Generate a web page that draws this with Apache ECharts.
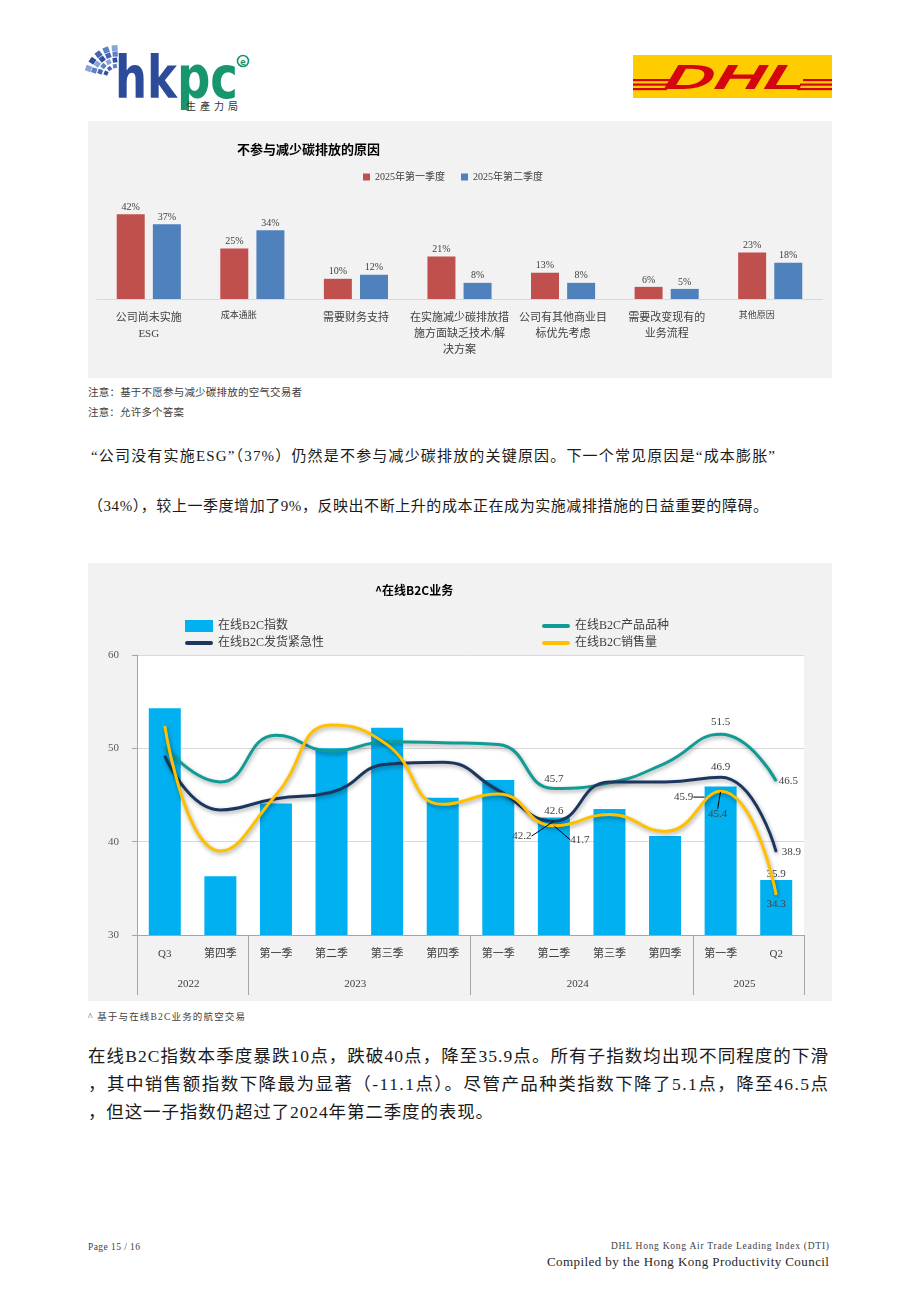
<!DOCTYPE html>
<html>
<head>
<meta charset="utf-8">
<script src="https://cdn.jsdelivr.net/npm/echarts@6/dist/echarts.min.js"></script>
<style>
  body { margin: 0; background: #fff; }
  #page {
    position: relative; width: 920px; height: 1302px; overflow: hidden;
    font-family: "Liberation Serif", "Noto Sans CJK SC", serif; color: #1a1a1a;
  }
  .t { position: absolute; white-space: nowrap; }
  #reasonChart { position: absolute; left: 88px; top: 121px; width: 744px; height: 257px; background: #f2f2f2; }
  #b2cChart { position: absolute; left: 88px; top: 563px; width: 744px; height: 438px; background: #f2f2f2; }
</style>
</head>
<body>
<div id="page">
  <!-- logos -->
  <svg id="hkpcLogo" class="t" style="left:0;top:0" width="300" height="120"></svg>
  <svg class="t" style="left:633px;top:55px" width="199" height="43">
    <rect x="0" y="0" width="199" height="43" fill="#FFCC00"/>
    <g fill="#D40511">
      <rect x="0" y="24" width="40" height="2.2"/>
      <rect x="0" y="28.5" width="37" height="2.2"/>
      <rect x="0" y="33" width="34" height="2.2"/>
      <rect x="170" y="24" width="29" height="2.2"/>
      <rect x="167" y="28.5" width="32" height="2.2"/>
      <rect x="164" y="33" width="35" height="2.2"/>
    </g>
    <text x="100" y="34" text-anchor="middle" textLength="142" lengthAdjust="spacingAndGlyphs"
      font-family="Liberation Sans" font-weight="bold" font-style="italic" font-size="35" fill="#D40511"
      transform="skewX(-12) translate(8,0)">DHL</text>
  </svg>

  <div id="reasonChart"></div>

  <div class="t fit" data-w="214" style="left:88px;top:383px;font-size:10.5px;line-height:20px;color:#404040">注意：基于不愿参与减少碳排放的空气交易者</div>
  <div class="t fit" data-w="96" style="left:88px;top:403px;font-size:10.5px;line-height:20px;color:#404040">注意：允许多个答案</div>

  <div class="t fit" data-w="684" style="left:91px;top:446px;font-size:15px;line-height:20px">“公司没有实施ESG”（37%）仍然是不参与减少碳排放的关键原因。下一个常见原因是“成本膨胀”</div>
  <div class="t fit" data-w="680" style="left:88px;top:496px;font-size:15px;line-height:20px">（34%），较上一季度增加了9%，反映出不断上升的成本正在成为实施减排措施的日益重要的障碍。</div>

  <div id="b2cChart"></div>

  <div class="t fit" data-w="157" style="left:88px;top:1007px;font-size:9.5px;line-height:20px;color:#404040">^ 基于与在线B2C业务的航空交易</div>

  <div class="t fit" data-w="740" style="left:88px;top:1042px;font-size:17.5px;line-height:28px">在线B2C指数本季度暴跌10点，跌破40点，降至35.9点。所有子指数均出现不同程度的下滑</div>
  <div class="t fit" data-w="740" style="left:88px;top:1070px;font-size:17.5px;line-height:28px">，其中销售额指数下降最为显著（-11.1点）。尽管产品种类指数下降了5.1点，降至46.5点</div>
  <div class="t fit" data-w="405" style="left:88px;top:1098px;font-size:17.5px;line-height:28px">，但这一子指数仍超过了2024年第二季度的表现。</div>

  <div class="t fit" data-w="52" style="left:88px;top:1237px;font-size:9.5px;line-height:20px;color:#404040">Page 15 / 16</div>
  <div class="t fit" data-w="218" data-right="829" style="top:1236px;font-size:9.5px;line-height:20px;color:#404040">DHL Hong Kong Air Trade Leading Index (DTI)</div>
  <div class="t fit" data-w="282" data-right="829" style="top:1252px;font-size:13px;line-height:20px;color:#262626">Compiled by the Hong Kong Productivity Council</div>
</div>

<script>
// ---------- 数据 ----------
// 图一：不参与减少碳排放的原因
const reasonCats = [
  '公司尚未实施\nESG',
  '成本通胀',
  '需要财务支持',
  '在实施减少碳排放措\n施方面缺乏技术/解\n决方案',
  '公司有其他商业目\n标优先考虑',
  '需要改变现有的\n业务流程',
  '其他原因'
];
const reasonQ1 = [42, 25, 10, 21, 13, 6, 23];
const reasonQ2 = [37, 34, 12, 8, 8, 5, 18];
const reasonNames = ['2025年第一季度', '2025年第二季度'];

// 图二：在线B2C业务
const quarterLabels = ['Q3', '第四季', '第一季', '第二季', '第三季', '第四季',
  '第一季', '第二季', '第三季', '第四季', '第一季', 'Q2'];
const yearLabels = ['2022', '2023', '2024', '2025'];
const yearSpans = [2, 4, 4, 2];
const b2cIndex = [54.3, 36.3, 44.1, 50.0, 52.2, 44.7, 46.6, 42.6, 43.5, 40.6, 45.9, 35.9];
const b2cVariety = [50.2, 46.4, 51.4, 49.7, 50.7, 50.6, 50.4, 45.7, 46.3, 48.4, 51.5, 46.5];
const b2cUrgency = [49.2, 43.4, 44.6, 45.3, 48.3, 48.5, 45.5, 42.2, 46.4, 46.4, 46.9, 38.9];
const b2cSales = [52.4, 39.0, 45.0, 52.5, 50.4, 44.0, 45.1, 41.7, 42.9, 41.1, 45.4, 34.3];
const yTicks = [30, 40, 50, 60];

const FONT = '"Liberation Serif", "Noto Sans CJK SC", serif';
const LABEL_COLOR = '#404040';

// ---------- 页面文字宽度微调 ----------
document.querySelectorAll('.fit').forEach(el => {
  const target = +el.dataset.w;
  const n = el.textContent.length;
  const natural = el.getBoundingClientRect().width;
  if (n > 1) el.style.letterSpacing = ((target - natural) / (n - 1)) + 'px';
  if (el.dataset.right) el.style.left = (+el.dataset.right - target) + 'px';
});

// ---------- hkpc 标志 ----------
(function drawLogo() {
  const svg = document.getElementById('hkpcLogo');
  const ns = 'http://www.w3.org/2000/svg';
  const cx = 117, cy = 78;
  const rings = [[12, 3], [18, 4], [24, 5], [30, 5]];
  const shades = ['#2F4E9E', '#4466B2', '#5E80C4', '#8AA3D6'];
  rings.forEach(([r, n], ri) => {
    for (let k = 0; k < n; k++) {
      const a = (190 + (k + 0.5) * (84 / n)) * Math.PI / 180;
      const x = cx + r * Math.cos(a), y = cy + r * Math.sin(a);
      const s = 4 + ri * 0.6;
      const rect = document.createElementNS(ns, 'rect');
      rect.setAttribute('x', x - s / 2); rect.setAttribute('y', y - s / 2);
      rect.setAttribute('width', s); rect.setAttribute('height', s);
      rect.setAttribute('fill', shades[(k + ri) % 4]);
      rect.setAttribute('transform', `rotate(${a * 180 / Math.PI} ${x} ${y})`);
      svg.appendChild(rect);
    }
  });
  svg.insertAdjacentHTML('beforeend',
    '<text x="115" y="98" textLength="62" lengthAdjust="spacingAndGlyphs" font-family="DejaVu Sans" font-weight="bold" font-size="58" fill="#2D4B9B">hk</text>' +
    '<text x="177" y="98" textLength="61" lengthAdjust="spacingAndGlyphs" font-family="DejaVu Sans" font-weight="bold" font-size="58" fill="#17956F">pc</text>' +
    '<text x="186" y="110" textLength="52" lengthAdjust="spacing" font-family="Noto Sans CJK TC" font-size="10" fill="#333">生產力局</text>' +
    '<circle cx="243" cy="61" r="5.5" fill="none" stroke="#17956F" stroke-width="1.6"/>' +
    '<text x="243" y="64.5" text-anchor="middle" font-family="DejaVu Sans" font-weight="bold" font-size="8" fill="#17956F">e</text>');
})();

// ---------- 图一 ----------
const reasonChart = echarts.init(document.getElementById('reasonChart'));
const smallCats = ['成本通胀', '其他原因'];
reasonChart.setOption({
  animation: false,
  textStyle: { fontFamily: FONT },
  title: {
    text: '不参与减少碳排放的原因',
    left: 144, top: 17,
    textStyle: { fontSize: 13, fontWeight: 'bold', color: '#000', fontFamily: '"Noto Sans CJK SC"' }
  },
  legend: {
    left: 270, top: 46,
    itemWidth: 7, itemHeight: 7, itemGap: 16,
    textStyle: { fontSize: 10, color: LABEL_COLOR, fontFamily: FONT },
    data: reasonNames.map(n => ({ name: n, icon: 'rect' }))
  },
  grid: { left: 9, right: 10, top: 77, bottom: 79 },
  xAxis: {
    type: 'category',
    data: reasonCats,
    axisLine: { lineStyle: { color: '#d9d9d9', width: 1 } },
    axisTick: { show: false },
    axisLabel: {
      interval: 0, fontSize: 11, lineHeight: 16, color: LABEL_COLOR, margin: 11, fontFamily: FONT,
      formatter: v => smallCats.includes(v) ? '{s|' + v + '}' : v,
      rich: { s: { fontSize: 9, color: LABEL_COLOR, padding: [0, 27, 4, 0], fontFamily: FONT } }
    }
  },
  yAxis: { type: 'value', min: 0, max: 50, show: false },
  series: [reasonQ1, reasonQ2].map((vals, k) => ({
    name: reasonNames[k],
    type: 'bar',
    data: vals,
    barWidth: 28,
    barGap: '29%',
    itemStyle: { color: k === 0 ? '#C0504D' : '#4F81BD' },
    label: {
      show: true, position: 'top', distance: 2, formatter: '{c}%',
      fontSize: 10, color: LABEL_COLOR, fontFamily: FONT
    }
  }))
});

// ---------- 图二 ----------
const b2cChart = echarts.init(document.getElementById('b2cChart'));

// 年份分隔位置与年份标签位置
const yearStarts = [];
const yearCenters = {};
yearSpans.reduce((start, span, i) => {
  yearStarts.push(start);
  yearCenters[start + span / 2] = yearLabels[i];
  return start + span;
}, 0);

// 数据标签放置（只显示部分点）
const labelPlace = {
  bar: {
    7: { position: 'top', distance: 1 },
    10: { position: 'top', distance: 5, move: [-37, 21] },
    11: { position: 'top', distance: 0, offset: [-3, 0] }
  },
  variety: {
    7: { position: 'top', distance: 3 },
    10: { position: 'top', distance: 6 },
    11: { position: 'right', distance: 2 }
  },
  urgency: {
    7: { position: 'top', distance: 5, move: [-32, 26] },
    10: { position: 'top', distance: 4 },
    11: { position: 'right', distance: 5 }
  },
  sales: {
    7: { position: 'top', distance: 5, move: [26, 25] },
    10: { position: 'top', distance: 5, move: [-3, 34] },
    11: { position: 'bottom', distance: 3 }
  }
};

const labelBase = { fontSize: 11, color: LABEL_COLOR, fontFamily: FONT };
function withLabels(values, key) {
  const spots = labelPlace[key];
  return values.map((v, i) => {
    const s = spots[i];
    if (!s) return v;
    const item = {
      value: v,
      label: Object.assign({ show: true }, labelBase,
        { position: s.position, distance: s.distance, offset: s.offset || [0, 0] })
    };
    if (s.move) item.labelLine = { show: true, lineStyle: { color: '#000', width: 1 } };
    return item;
  });
}
function layoutFor(key) {
  const spots = labelPlace[key];
  return p => {
    const s = spots[p.dataIndex];
    return s && s.move ? { dx: s.move[0], dy: s.move[1] } : {};
  };
}

const LINE_ICON = 'path://M0,0 L0.01,0 M2,4 L26,4 A2,2 0 0 1 26,8 L2,8 A2,2 0 0 1 2,4 Z M28,12 L27.99,12';
const lineShadow = { shadowColor: 'rgba(0,0,0,0.35)', shadowBlur: 4, shadowOffsetY: 2, shadowOffsetX: 1 };

function lineSeries(name, values, key, color) {
  return {
    name, type: 'line', smooth: true,
    data: withLabels(values, key),
    symbol: 'circle', symbolSize: 1,
    itemStyle: { color },
    lineStyle: Object.assign({ color, width: 3 }, lineShadow),
    label: { show: false },
    labelLayout: layoutFor(key),
    z: 3
  };
}

const legendCommon = {
  orient: 'vertical', top: 52, itemGap: 5, itemWidth: 28, itemHeight: 12,
  itemStyle: { borderWidth: 0 },
  textStyle: { fontSize: 12, color: LABEL_COLOR, fontFamily: FONT }
};

b2cChart.setOption({
  animation: false,
  textStyle: { fontFamily: FONT },
  title: {
    text: '^在线B2C业务',
    left: 282, top: 16,
    textStyle: { fontSize: 12, fontWeight: 'bold', color: '#000', fontFamily: '"Noto Sans CJK SC"' }
  },
  legend: [
    Object.assign({ left: 92, data: [{ name: '在线B2C指数', icon: 'rect' }, { name: '在线B2C发货紧急性', icon: LINE_ICON }] }, legendCommon),
    Object.assign({ left: 449, data: [{ name: '在线B2C产品品种', icon: LINE_ICON }, { name: '在线B2C销售量', icon: LINE_ICON }] }, legendCommon)
  ],
  grid: { left: 49, right: 28, top: 92, bottom: 66, show: true, backgroundColor: '#fff', borderWidth: 0 },
  xAxis: [
    {
      type: 'category',
      data: quarterLabels,
      axisLine: { lineStyle: { color: '#a6a6a6' } },
      axisTick: { show: true, length: 60, interval: i => yearStarts.includes(i), lineStyle: { color: '#a6a6a6' } },
      axisLabel: { interval: 0, fontSize: 11, color: LABEL_COLOR, margin: 14, fontFamily: FONT }
    },
    {
      type: 'value', position: 'bottom', min: 0, max: quarterLabels.length, interval: 1,
      axisLine: { show: false }, axisTick: { show: false }, splitLine: { show: false },
      axisLabel: {
        margin: 44, fontSize: 11, color: LABEL_COLOR, fontFamily: FONT,
        padding: [0, 8, 0, 0],
        formatter: v => yearCenters[v] || ''
      }
    }
  ],
  yAxis: {
    type: 'value', min: yTicks[0], max: yTicks[yTicks.length - 1], interval: 10,
    axisLine: { show: true, lineStyle: { color: '#a6a6a6' } },
    axisTick: { show: true, length: 5, lineStyle: { color: '#a6a6a6' } },
    splitLine: { lineStyle: { color: '#d9d9d9' } },
    axisLabel: { fontSize: 11, color: '#595959', margin: 18, fontFamily: FONT }
  },
  series: [
    {
      name: '在线B2C指数', type: 'bar',
      data: withLabels(b2cIndex, 'bar'),
      barWidth: 32,
      itemStyle: { color: '#00B0F0' },
      label: { show: false },
      labelLayout: layoutFor('bar'),
      z: 2
    },
    lineSeries('在线B2C产品品种', b2cVariety, 'variety', '#0E9C95'),
    lineSeries('在线B2C发货紧急性', b2cUrgency, 'urgency', '#1B3760'),
    lineSeries('在线B2C销售量', b2cSales, 'sales', '#FFC000')
  ]
});
</script>
</body>
</html>
